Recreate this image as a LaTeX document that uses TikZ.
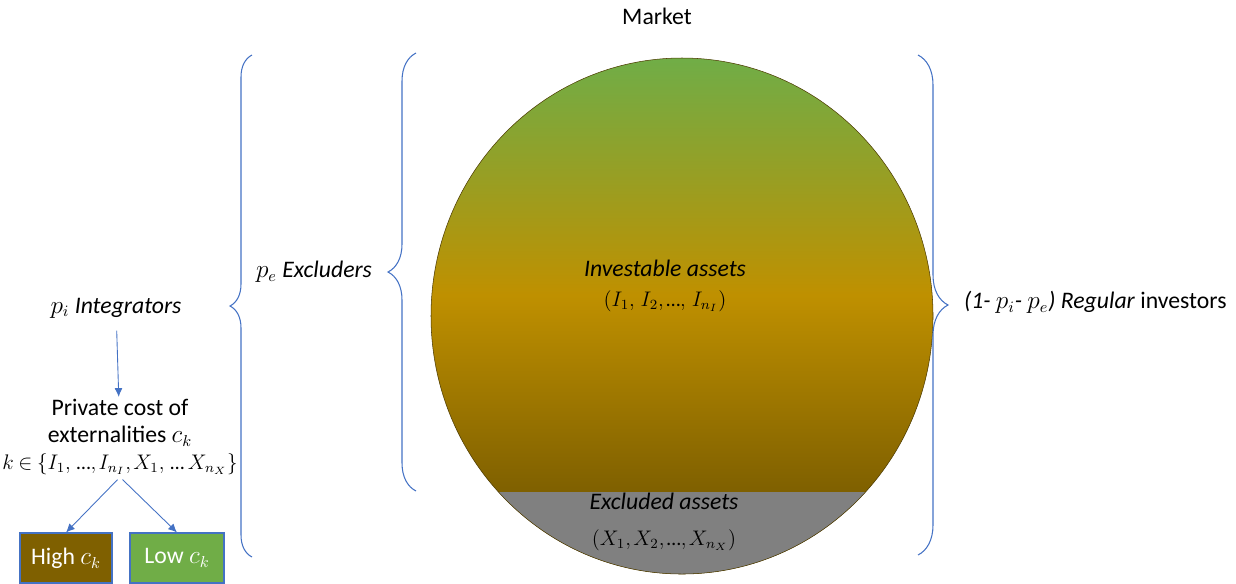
\documentclass[tikz,border=0pt]{standalone}
\usepackage{amsmath,amssymb}
\usepackage{fontspec}
\setmainfont{Carlito}
\usepackage{xcolor}
\usetikzlibrary{decorations.pathreplacing,arrows.meta}

\definecolor{greenc}{RGB}{112,173,71}
\definecolor{goldc}{RGB}{191,144,0}
\definecolor{brownc}{RGB}{127,96,0}
\definecolor{linec}{RGB}{68,114,196}
\definecolor{grayc}{RGB}{128,128,128}

\pgfdeclareverticalshading{marketshade}{100bp}{color(0bp)=(brownc); color(33bp)=(brownc); color(52bp)=(goldc); color(75bp)=(greenc); color(100bp)=(greenc)}

\newcommand{\mktdots}{\text{…}}
\newcommand{\mktcomma}{,\mkern-1mu}
\newcommand{\mktmath}{\fontsize{11.5}{14}\selectfont}

\tikzset{
  lbl/.style={font=\fontsize{13.5}{16}\selectfont, inner sep=1pt},
  bracket/.style={draw=linec, line width=0.6pt, decorate, decoration={brace, amplitude=#1}},
  arrow/.style={draw=linec, line width=0.5pt, -{Latex[length=5pt,width=4.5pt]}},
  costbox/.style={draw=linec, line width=0.6pt, text=white, minimum height=1cm, font=\fontsize{13.5}{16}\selectfont}
}

\begin{document}
\begin{tikzpicture}[x=0.02cm, y=-0.02cm]
        \useasboundingbox (0,0) rectangle (1236,583);

        \shade[shading=marketshade] (682,316) ellipse [x radius=251, y radius=258];
        \begin{scope}
            \clip (682,316) ellipse [x radius=251, y radius=258];
            \fill[grayc] (400,492) rectangle (960,600);
        \end{scope}
        \draw[brownc!60!black, line width=0.3pt] (682,316) ellipse [x radius=251, y radius=258];

        \node[lbl] (market) at (657,16) {Market};
        \node[lbl, align=center] (invest) at (665,286) {\textit{Investable assets}\\[1pt] {\mktmath$(I_1\mktcomma\, I_2\mktcomma\mktdots\mktcomma\, I_{n_I})$}};
        \node[lbl, align=center] (exclud) at (664,522) {\textit{Excluded assets}\\[4pt] {\mktmath$(X_1\mktcomma X_2\mktcomma\mktdots\mktcomma X_{n_X})$}};

        \node[lbl] (integ) at (116,308) {$p_i$ \textit{Integrators}};
        \node[lbl] (exclu) at (314,272) {$p_e$ \textit{Excluders}};
        \node[lbl, anchor=west] (regul) at (962,302) {\textit{(1- }$p_i$\textit{- }$p_e$\textit{) Regular} investors};

        \node[lbl, align=center, font=\fontsize{13.5}{15.4}\selectfont] (cost) at (120,437) {Private cost of\\ externalities $c_k$\\ {\mktmath$k\mkern-1mu\in\mkern-1mu\{I_1\mktcomma\,\mktdots\mktcomma I_{n_I}\mktcomma X_1\mktcomma\,\mktdots\, X_{n_X}\}$}};
        \node[costbox, fill=brownc, minimum width=1.84cm] (high) at (66,558) {High $c_k$};
        \node[costbox, fill=greenc, minimum width=1.88cm] (low) at (177,558) {Low $c_k$};

        \draw[bracket=0.44cm] (252,557) -- (252,55);
        \draw[bracket=0.56cm] (416,491) -- (416,53);
        \draw[bracket=0.6cm] (918,55) -- (918,555);

        \draw[arrow, shorten <=6pt] (integ) -- (cost);
        \draw[arrow, shorten <=2pt] (cost.south) -- (high.north);
        \draw[arrow, shorten <=2pt] (cost.south) -- (low.north);
    \end{tikzpicture}
\end{document}
